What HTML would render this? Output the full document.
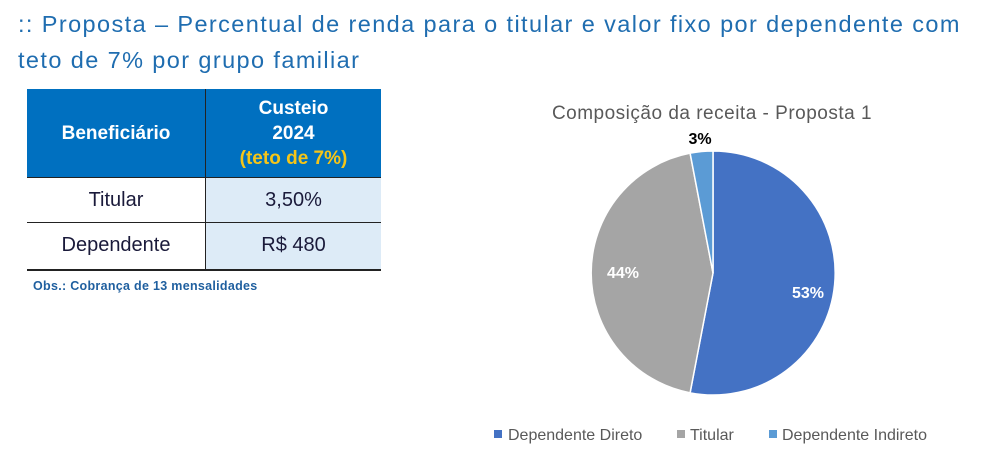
<!DOCTYPE html>
<html><head><meta charset="utf-8"><style>
body{margin:0;width:990px;height:471px;background:#fff;font-family:"Liberation Sans",sans-serif;position:relative;overflow:hidden}
.t{position:absolute;left:18px;top:6px;font-size:23.5px;line-height:36px;color:#1f6db0;width:975px;letter-spacing:1.4px;white-space:nowrap}
table{position:absolute;left:27px;top:89px;border-collapse:collapse;width:354px}
td{text-align:center;font-size:20px;color:#1a1a3a;padding:0}
th{background:#0070c0;color:#fff;font-size:19px;font-weight:bold;line-height:25px;padding:0;height:88px;border-right:1px solid #222}
.obs{position:absolute;left:33px;top:279px;font-size:12.5px;font-weight:bold;color:#1f5f9f;letter-spacing:0.3px}
</style></head><body>
<div class="t">:: Proposta – Percentual de renda para o titular e valor fixo por dependente com<br>teto de 7% por grupo familiar</div>
<table>
<tr><th style="width:178px">Beneficiário</th><th style="border-right:none">Custeio<br>2024<br><span style="color:#f5c518">(teto de 7%)</span></th></tr>
<tr style="height:45px"><td style="border-top:1px solid #222;border-right:1px solid #222">Titular</td><td style="background:#ddebf7;border-top:1px solid #222">3,50%</td></tr>
<tr style="height:47px"><td style="border-top:1px solid #222;border-right:1px solid #222;border-bottom:2px solid #222">Dependente</td><td style="background:#ddebf7;border-top:1px solid #222;border-bottom:2px solid #222">R$ 480</td></tr>
</table>
<div class="obs">Obs.: Cobrança de 13 mensalidades</div>
<svg style="position:absolute;left:0;top:0" width="990" height="471">
<text x="712" y="119" text-anchor="middle" font-size="19" fill="#595959" font-family="Liberation Sans" letter-spacing="0.5">Composição da receita - Proposta 1</text>
<path d="M713,273 L713,151 A122,122 0 1,1 690.1,392.8 Z" fill="#4472c4" stroke="#fff" stroke-width="1.5"/>
<path d="M713,273 L690.1,392.8 A122,122 0 0,1 690.1,153.2 Z" fill="#a5a5a5" stroke="#fff" stroke-width="1.5"/>
<path d="M713,273 L690.1,153.2 A122,122 0 0,1 713,151 Z" fill="#5b9bd5" stroke="#fff" stroke-width="1.5"/>
<g font-family="Liberation Sans" font-weight="bold" font-size="16">
<text x="700" y="144" text-anchor="middle" fill="#000">3%</text>
<text x="623" y="278" text-anchor="middle" fill="#fff">44%</text>
<text x="808" y="298" text-anchor="middle" fill="#fff">53%</text>
</g>
<g font-family="Liberation Sans" font-size="16" fill="#595959">
<rect x="494" y="430" width="8" height="8" fill="#4472c4"/><text x="508" y="440">Dependente Direto</text>
<rect x="677" y="430" width="8" height="8" fill="#a5a5a5"/><text x="690" y="440">Titular</text>
<rect x="769" y="430" width="8" height="8" fill="#5b9bd5"/><text x="782" y="440">Dependente Indireto</text>
</g>
</svg>
</body></html>
